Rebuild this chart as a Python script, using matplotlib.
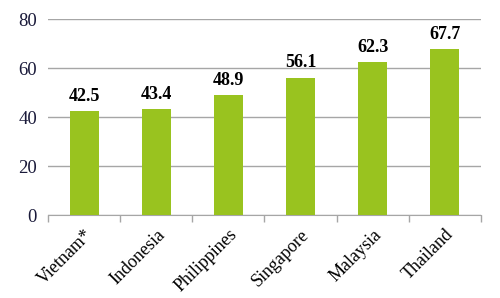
import matplotlib.pyplot as plt
import numpy as np

countries = ['Vietnam*', 'Indonesia', 'Philippines', 'Singapore', 'Malaysia', 'Thailand']
values = [42.5, 43.4, 48.9, 56.1, 62.3, 67.7]
yticks = [0, 20, 40, 60, 80]

plt.rcParams['font.family'] = ['Liberation Serif', 'DejaVu Serif']

fig = plt.figure(figsize=(5, 2.98), dpi=100)
ax = fig.add_axes([0.096, 0.2785, 0.866, 0.6575])

x = np.arange(len(countries))
ax.bar(x, values, width=0.4, color='#99C31F', zorder=3)

for xi, v in zip(x, values):
    ax.text(xi, v + 2.5, f'{v:.1f}', ha='center', va='bottom',
            fontsize=13, fontweight='bold', color='black')

ax.set_xlim(-0.5, len(countries) - 0.5)
ax.set_ylim(0, 80)
ax.set_yticks(yticks)
ax.set_yticklabels([str(t) for t in yticks], fontsize=13.5, color='#1a1a3a')
ax.yaxis.grid(True, color='#A6A6A6', linewidth=1, zorder=0)
ax.tick_params(axis='y', length=0, pad=8)

ax.set_xticks(x)
ax.set_xticklabels(countries, rotation=45, ha='right', rotation_mode='anchor',
                   fontsize=13)
ax.tick_params(axis='x', which='major', length=0, pad=8)
ax.set_xticks(np.arange(-0.5, len(countries)), minor=True)
ax.tick_params(axis='x', which='minor', length=5, color='#A6A6A6', width=1)

for s in ['left', 'right', 'top']:
    ax.spines[s].set_visible(False)
ax.spines['bottom'].set_color('#A6A6A6')

fig.savefig('out.png', dpi=100)
